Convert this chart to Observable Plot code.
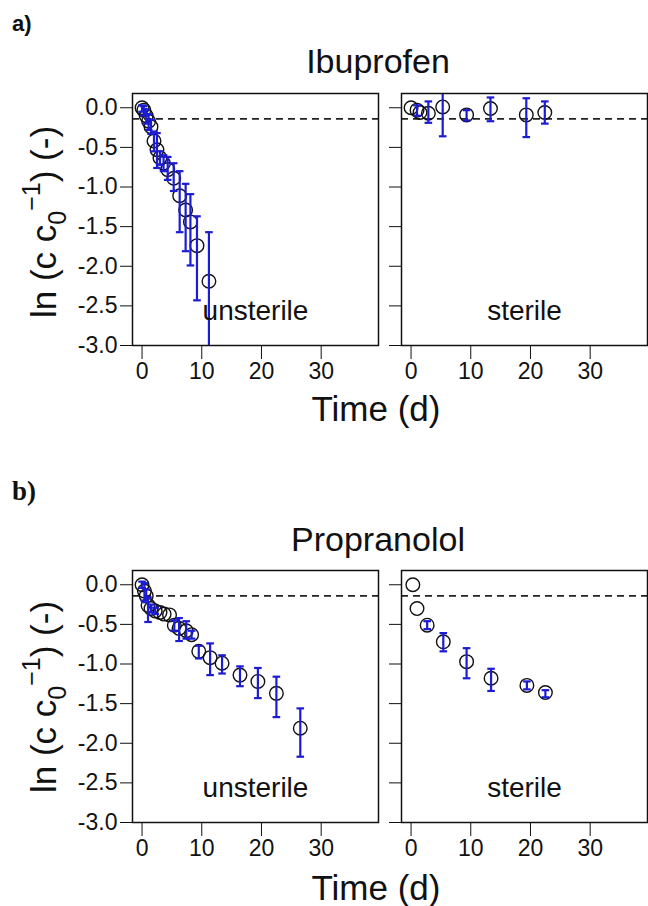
<!DOCTYPE html>
<html><head><meta charset="utf-8">
<script src="https://cdn.jsdelivr.net/npm/d3@7"></script>
<script src="https://cdn.jsdelivr.net/npm/@observablehq/plot@0.6"></script>
<style>
body{margin:0;background:#fff;}
#wrap{position:relative;width:648px;height:906px;overflow:hidden;font-family:"Liberation Sans",Arial,sans-serif;background:#fff;}
.panel{position:absolute;}
#overlay{position:absolute;left:0;top:0;}
</style></head><body><div id="wrap"></div>
<script>
// ---------- axis ticks & labels ----------
const timeTicks = [0, 10, 20, 30];
const lnTicks = [0, -0.5, -1, -1.5, -2, -2.5, -3];
const threshold = -0.14;
const compounds = ["Ibuprofen", "Propranolol"];
const panelLetters = ["a)", "b)"];
const conditions = ["unsterile", "sterile"];
const xLabel = "Time (d)";

// ---------- Ibuprofen, unsterile ----------
const ibuUnsterileT  = [0, 0.3, 0.7, 1.1, 1.5, 2.0, 2.5, 3.0, 3.6, 4.3, 5.3, 6.3, 7.3, 8.1, 9.2, 11.2];
const ibuUnsterileY  = [0.00, -0.03, -0.10, -0.17, -0.24, -0.42, -0.53, -0.63, -0.70, -0.78, -0.89, -1.11, -1.29, -1.44, -1.74, -2.19];
const ibuUnsterileLo = [-0.05, -0.10, -0.20, -0.28, -0.33, -0.55, -0.76, -0.72, -0.80, -0.91, -1.05, -1.57, -1.81, -1.99, -2.43, -3.20];
const ibuUnsterileHi = [0.03, 0.02, -0.02, -0.08, -0.15, -0.30, -0.32, -0.55, -0.60, -0.62, -0.70, -0.80, -0.96, -1.09, -1.37, -1.57];

// ---------- Ibuprofen, sterile ----------
const ibuSterileT  = [0, 1.0, 1.5, 2.9, 5.3, 9.3, 13.3, 19.3, 22.4];
const ibuSterileY  = [0.00, -0.03, -0.06, -0.07, 0.01, -0.09, -0.01, -0.09, -0.06];
const ibuSterileLo = [null, -0.10, null, -0.19, -0.36, -0.16, -0.17, -0.37, -0.20];
const ibuSterileHi = [null, 0.03, null, 0.08, 0.40, -0.03, 0.13, 0.12, 0.08];

// ---------- Propranolol, unsterile ----------
const proUnsterileT  = [0, 0.4, 0.7, 1.0, 1.5, 2.2, 3.0, 3.7, 4.6, 5.4, 6.2, 7.4, 8.3, 9.5, 11.4, 13.4, 16.4, 19.4, 22.5, 26.5];
const proUnsterileY  = [0.00, -0.08, -0.14, -0.26, -0.30, -0.33, -0.35, -0.37, -0.38, -0.51, -0.55, -0.58, -0.63, -0.84, -0.92, -0.99, -1.14, -1.22, -1.37, -1.81];
const proUnsterileLo = [-0.04, -0.20, -0.22, -0.47, -0.35, -0.37, null, null, null, -0.58, -0.71, -0.68, -0.68, -0.93, -1.14, -1.12, -1.28, -1.43, -1.67, -2.17];
const proUnsterileHi = [0.04, 0.02, -0.06, -0.16, -0.25, -0.29, null, null, null, -0.45, -0.42, -0.46, -0.58, -0.77, -0.74, -0.89, -1.03, -1.05, -1.16, -1.56];

// ---------- Propranolol, sterile ----------
const proSterileT  = [0.3, 1.0, 2.7, 5.4, 9.3, 13.4, 19.4, 22.5];
const proSterileY  = [0.00, -0.30, -0.51, -0.72, -0.97, -1.18, -1.27, -1.36];
const proSterileLo = [null, null, -0.56, -0.84, -1.18, -1.34, -1.32, -1.42];
const proSterileHi = [null, null, -0.46, -0.61, -0.80, -1.06, -1.22, -1.33];

const blue = "#1c1cd4";
const ink = "#111";
const font = "'Liberation Sans', Arial, Helvetica, sans-serif";

const capSymbol = {
  draw(ctx, size) {
    const r = Math.sqrt(size / Math.PI);
    ctx.moveTo(-r, 0);
    ctx.lineTo(r, 0);
  }
};

function panel({t, y, lo, hi, label, left}) {
  const pts = t.map((tt, i) => ({t: tt, y: y[i], lo: lo[i], hi: hi[i]}));
  const bars = pts.filter(d => d.lo != null && d.hi != null);
  return Plot.plot({
    width: left ? 390 : 258,
    height: 305,
    marginTop: 13,
    marginBottom: 40,
    marginLeft: left ? 132 : 11,
    marginRight: left ? 12 : 1,
    style: {fontFamily: font, fontSize: "23px", color: ink, background: "transparent", overflow: "visible"},
    x: {domain: [-1.6, 39.6], ticks: timeTicks, tickSize: 14, tickPadding: 3, label: null, tickFormat: d => String(d)},
    y: {domain: [-3, 0.18], ticks: lnTicks, tickSize: 12, tickPadding: 3, label: null,
        tickFormat: left ? (d => d.toFixed(1)) : (() => "")},
    marks: [
      Plot.ruleY([threshold], {stroke: "#222", strokeWidth: 1.8, strokeDasharray: "7,5"}),
      Plot.dot(pts, {x: "t", y: "y", r: 6.8, stroke: ink, strokeWidth: 1.4, fill: "none"}),
      Plot.ruleX(bars, {x: "t", y1: "lo", y2: "hi", stroke: blue, strokeWidth: 2.2, clip: true}),
      Plot.dot(bars, {x: "t", y: "lo", symbol: capSymbol, r: 3.8, stroke: blue, strokeWidth: 2.2, fill: "none", clip: true}),
      Plot.dot(bars, {x: "t", y: "hi", symbol: capSymbol, r: 3.8, stroke: blue, strokeWidth: 2.2, fill: "none", clip: true}),
      Plot.text([label], {text: d => d, frameAnchor: "bottom", lineAnchor: "bottom", dy: -26, fontSize: 28, fill: ink}),
      Plot.frame({stroke: ink, strokeWidth: 1.5})
    ]
  });
}

const wrap = document.getElementById("wrap");
const rows = [
  {top: 80, sets: [[ibuUnsterileT, ibuUnsterileY, ibuUnsterileLo, ibuUnsterileHi], [ibuSterileT, ibuSterileY, ibuSterileLo, ibuSterileHi]]},
  {top: 557, sets: [[proUnsterileT, proUnsterileY, proUnsterileLo, proUnsterileHi], [proSterileT, proSterileY, proSterileLo, proSterileHi]]}
];
rows.forEach(row => {
  row.sets.forEach((s, j) => {
    const chart = panel({t: s[0], y: s[1], lo: s[2], hi: s[3], label: conditions[j], left: j === 0});
    chart.classList.add("panel");
    chart.style.position = "absolute";
    chart.style.left = (j === 0 ? 0 : 390) + "px";
    chart.style.top = row.top + "px";
    wrap.appendChild(chart);
  });
});

// ---------- overlay text ----------
const NS = "http://www.w3.org/2000/svg";
const ov = document.createElementNS(NS, "svg");
ov.setAttribute("id", "overlay");
ov.setAttribute("width", 648);
ov.setAttribute("height", 906);
ov.style.pointerEvents = "none";
wrap.appendChild(ov);
function txt(str, x, y, opts = {}) {
  const e = document.createElementNS(NS, "text");
  e.setAttribute("x", x); e.setAttribute("y", y);
  e.setAttribute("font-family", opts.family || font);
  e.setAttribute("font-size", opts.size || 20);
  if (opts.weight) e.setAttribute("font-weight", opts.weight);
  e.setAttribute("text-anchor", opts.anchor || "start");
  e.setAttribute("fill", ink);
  if (opts.transform) e.setAttribute("transform", opts.transform);
  e.textContent = str;
  ov.appendChild(e);
  return e;
}
function yLabel(cx, cy) {
  const e = document.createElementNS(NS, "text");
  e.setAttribute("transform", `translate(${cx},${cy}) rotate(-90)`);
  e.setAttribute("text-anchor", "middle");
  e.setAttribute("font-family", font);
  e.setAttribute("font-size", 35);
  e.setAttribute("fill", ink);
  const parts = [
    ["ln (c c", 0, 35],
    ["0", 10, 25],
    ["\u22121", -26, 25],
    [") (-)", 16, 35]
  ];
  parts.forEach(([s, dy, fs]) => {
    const ts = document.createElementNS(NS, "tspan");
    ts.setAttribute("dy", dy);
    ts.setAttribute("font-size", fs);
    ts.textContent = s;
    e.appendChild(ts);
  });
  ov.appendChild(e);
}

txt(panelLetters[0], 12, 31, {size: 22, weight: "bold"});
txt(panelLetters[1], 12, 500, {size: 27, weight: "bold", family: "'Liberation Serif', 'Times New Roman', serif"});
txt(compounds[0], 378, 73, {size: 34, anchor: "middle"});
txt(compounds[1], 378, 551, {size: 34, anchor: "middle"});
txt(xLabel, 376, 421, {size: 35, anchor: "middle"});
txt(xLabel, 376, 900, {size: 35, anchor: "middle"});
yLabel(56, 222);
yLabel(56, 697);
</script></body></html>
